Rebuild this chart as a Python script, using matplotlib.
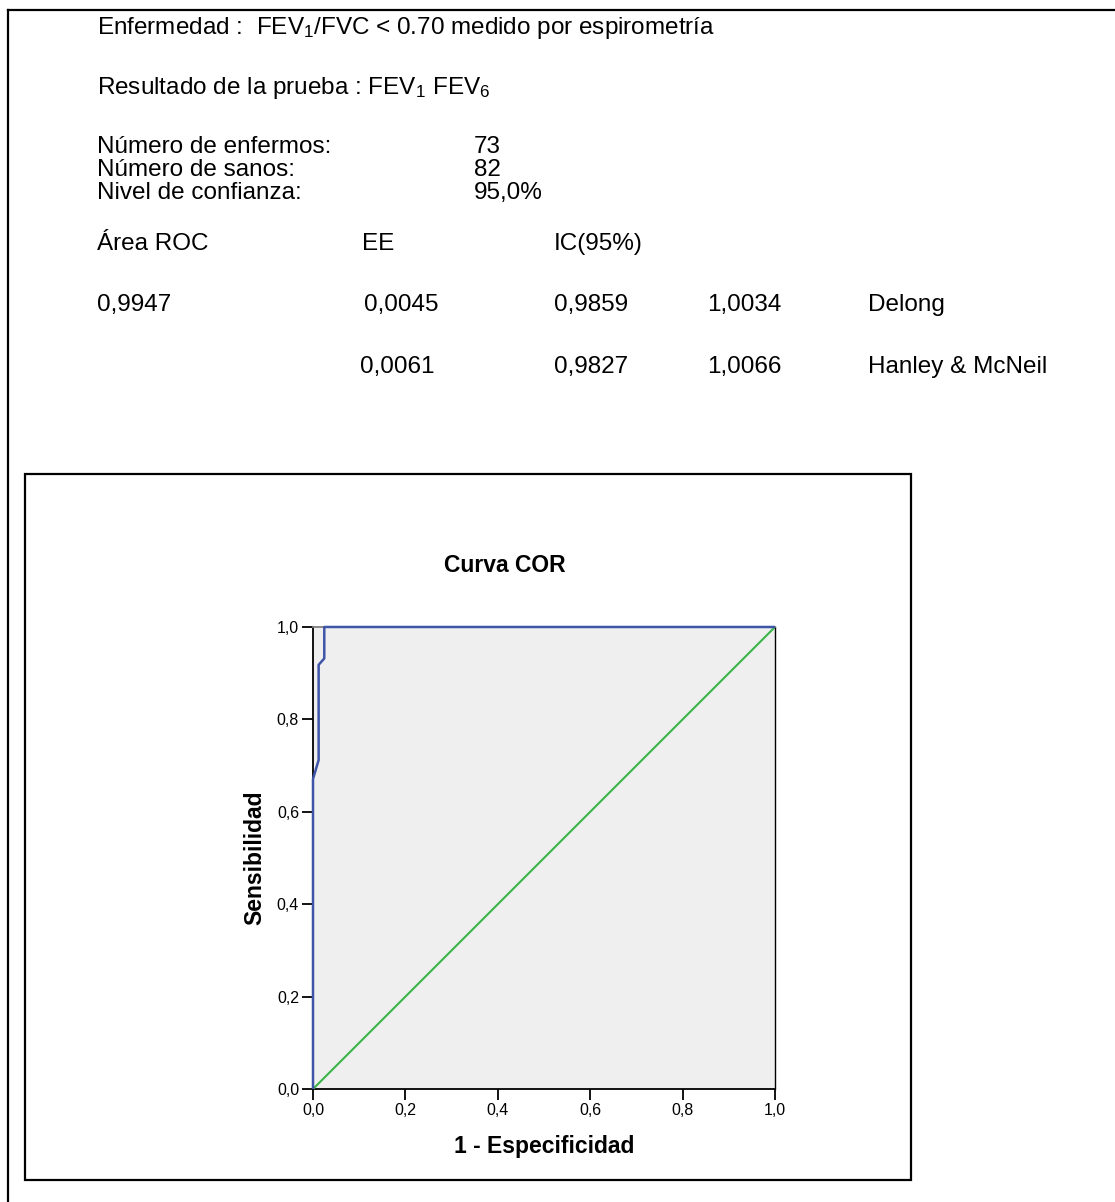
import matplotlib
matplotlib.use("Agg")
import matplotlib.pyplot as plt
from matplotlib.patches import Rectangle
from matplotlib.lines import Line2D
from matplotlib.ticker import FuncFormatter

plt.rcParams['font.family'] = ['Liberation Sans', 'DejaVu Sans']
plt.rcParams['mathtext.fontset'] = 'custom'
plt.rcParams['mathtext.rm'] = 'Liberation Sans'
plt.rcParams['mathtext.it'] = 'Liberation Sans:italic'
plt.rcParams['mathtext.bf'] = 'Liberation Sans:bold'

# ROC curve (1 - specificity, sensitivity)
fpr = [0.0, 0.0, 0.0122, 0.0122, 0.0244, 0.0244, 1.0]
tpr = [0.0, 0.671, 0.712, 0.918, 0.932, 1.0, 1.0]
ref_line = [0.0, 1.0]

n_enfermos = 73
n_sanos = 82
confianza = "95,0%"
area_roc = "0,9947"
header_cols = ["Área ROC", "EE", "IC(95%)"]
delong = ["0,0045", "0,9859", "1,0034", "Delong"]
hanley = ["0,0061", "0,9827", "1,0066", "Hanley & McNeil"]
ticks = [0.0, 0.2, 0.4, 0.6, 0.8, 1.0]

W, H = 1115, 1202
fig = plt.figure(figsize=(W / 100, H / 100), dpi=100)

def fx(px):
    return px / W

def fy(py):
    return 1 - py / H

# page frame: top and left borders
fig.add_artist(Line2D([fx(8), 1.0], [fy(10), fy(10)], color='black', lw=1.6))
fig.add_artist(Line2D([fx(8), fx(8)], [fy(10), 0.0], color='black', lw=1.6))

fs = 17.5
kw = dict(fontsize=fs, va='center', ha='left', color='black')
fig.text(fx(97), fy(28), "Enfermedad :  FEV$_1$/FVC < 0.70 medido por espirometría", **kw)
fig.text(fx(97), fy(88), "Resultado de la prueba : FEV$_1$ FEV$_6$", **kw)

fig.text(fx(97), fy(147), "Número de enfermos:", **kw)
fig.text(fx(474), fy(147), str(n_enfermos), **kw)
fig.text(fx(97), fy(170), "Número de sanos:", **kw)
fig.text(fx(474), fy(170), str(n_sanos), **kw)
fig.text(fx(97), fy(193), "Nivel de confianza:", **kw)
fig.text(fx(474), fy(193), confianza, **kw)

for label, x in zip(header_cols, [97, 362, 554]):
    fig.text(fx(x), fy(244), label, **kw)

fig.text(fx(97), fy(305), area_roc, **kw)
for label, x in zip(delong, [364, 554, 707, 868]):
    fig.text(fx(x), fy(305), label, **kw)
for label, x in zip(hanley, [360, 554, 707, 868]):
    fig.text(fx(x), fy(367), label, **kw)

# chart frame
fig.add_artist(Rectangle((fx(25), fy(1180)), fx(911) - fx(25), fy(474) - fy(1180),
                         fill=False, edgecolor='black', lw=1.6))

ax = fig.add_axes([fx(313), fy(1089), fx(775) - fx(313), fy(627) - fy(1089)])
ax.set_facecolor('#efefef')
ax.plot(ref_line, ref_line, color='#3cb44b', lw=1.5, solid_capstyle='butt', zorder=3)
ax.plot(fpr, tpr, color='#3f55a8', lw=1.8, solid_capstyle='butt', zorder=4, clip_on=False)
ax.set_xlim(0, 1)
ax.set_ylim(0, 1)
ax.set_xticks(ticks)
ax.set_yticks(ticks)
fmt = FuncFormatter(lambda v, p: f"{v:.1f}".replace('.', ','))
ax.xaxis.set_major_formatter(fmt)
ax.yaxis.set_major_formatter(fmt)
ax.tick_params(direction='out', length=8, width=1.3, labelsize=11.5, pad=2, colors='black')
ax.spines['left'].set_linewidth(1.3)
ax.spines['bottom'].set_linewidth(1.3)
ax.spines['top'].set_color('#808080')
ax.spines['top'].set_linewidth(1.3)
ax.spines['right'].set_color('black')
ax.spines['right'].set_linewidth(1.0)

fig.text(fx(505), fy(565), "Curva COR", fontsize=16.5, fontweight='bold', ha='center', va='center')
fig.text(fx(544), fy(1147), "1 - Especificidad", fontsize=16.5, fontweight='bold', ha='center', va='center')
fig.text(fx(255), fy(858), "Sensibilidad", fontsize=16.5, fontweight='bold', ha='center', va='center', rotation=90)

fig.savefig("out.png", dpi=100)
